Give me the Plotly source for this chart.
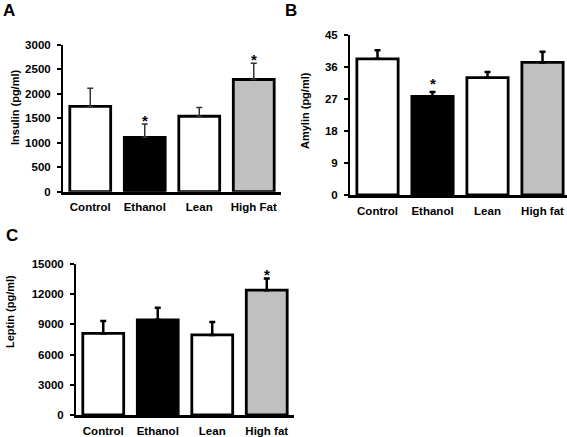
import plotly.graph_objects as go

# ---- data ----
cats_a = ["Control", "Ethanol", "Lean", "High Fat"]
cats_bc = ["Control", "Ethanol", "Lean", "High fat"]

insulin = [1740, 1110, 1540, 2290]
insulin_err = [370, 270, 180, 330]
insulin_sig = [False, True, False, True]

amylin = [38.3, 27.7, 33.0, 37.3]
amylin_err = [2.4, 1.3, 1.6, 3.0]
amylin_sig = [False, True, False, False]

leptin = [8100, 9450, 7950, 12400]
leptin_err = [1250, 1200, 1300, 1150]
leptin_sig = [False, False, False, True]

ticks_a = [0, 500, 1000, 1500, 2000, 2500, 3000]
ticks_b = [0, 9, 18, 27, 36, 45]
ticks_c = [0, 3000, 6000, 9000, 12000, 15000]

fills = ["white", "black", "white", "#c0c0c0"]

FONT = "Liberation Sans"
W, H = 567, 437

fig = go.Figure()

panels = [
    dict(cats=cats_a, vals=insulin, err=insulin_err, sig=insulin_sig, ticks=ticks_a,
         xa="x", ya="y", ecol="#333333", eth=1.5, sshift=4),
    dict(cats=cats_bc, vals=amylin, err=amylin_err, sig=amylin_sig, ticks=ticks_b,
         xa="x2", ya="y2", ecol="black", eth=2.5, sshift=8),
    dict(cats=cats_bc, vals=leptin, err=leptin_err, sig=leptin_sig, ticks=ticks_c,
         xa="x3", ya="y3", ecol="black", eth=2.5, sshift=4),
]

for p in panels:
    fig.add_trace(go.Bar(
        x=p["cats"], y=p["vals"], xaxis=p["xa"], yaxis=p["ya"],
        marker=dict(color=fills, line=dict(color="black", width=2.8)),
        width=0.75,
        error_y=dict(type="data", symmetric=False, array=p["err"],
                     arrayminus=[0] * len(p["err"]),
                     color=p["ecol"], thickness=p["eth"], width=3),
        showlegend=False, hoverinfo="skip",
    ))
    for c, v, e, s in zip(p["cats"], p["vals"], p["err"], p["sig"]):
        if s:
            fig.add_annotation(x=c, y=v + e, xref=p["xa"], yref=p["ya"], text="*",
                               showarrow=False, yanchor="middle", yshift=p["sshift"],
                               font=dict(family=FONT, size=15, color="black", weight="bold"))

tickfont = dict(family=FONT, size=11.5, color="black", weight="bold")

def xaxis_cfg(domain, anchor, rng):
    return dict(domain=domain, anchor=anchor, range=rng, showline=True, linecolor="black",
                linewidth=2.5, ticks="", tickfont=tickfont, ticklabelstandoff=3,
                showgrid=False, zeroline=False, fixedrange=True, automargin=False)

def yaxis_cfg(domain, anchor, rng, tv):
    return dict(domain=domain, anchor=anchor, range=rng, showline=True, linecolor="black",
                linewidth=2, ticks="outside", ticklen=4, tickwidth=2, tickcolor="black",
                tickvals=tv, ticktext=[str(t) for t in tv], tickfont=tickfont,
                ticklabelstandoff=4,
                showgrid=False, zeroline=False, fixedrange=True, automargin=False)

fig.update_layout(
    width=W, height=H, margin=dict(l=0, r=0, t=0, b=0, autoexpand=False),
    paper_bgcolor="white", plot_bgcolor="white", bargap=0.25,
    xaxis=xaxis_cfg([63 / W, 281 / W], "y", [-0.5, 3.5]),
    yaxis=yaxis_cfg([1 - 191.7 / H, 1 - 44.7 / H], "x", [0, 3000], ticks_a),
    xaxis2=xaxis_cfg([350 / W, 1.0], "y2", [-0.5, 3.445]),
    yaxis2=yaxis_cfg([1 - 195 / H, 1 - 35 / H], "x2", [0, 45], ticks_b),
    xaxis3=xaxis_cfg([76 / W, 294 / W], "y3", [-0.5, 3.5]),
    yaxis3=yaxis_cfg([1 - 415 / H, 1 - 264 / H], "x3", [0, 15000], ticks_c),
)

letter_font = dict(family=FONT, size=17, color="black", weight="bold")
for txt, x, y in [("A", 1, 10), ("B", 283, 10), ("C", 4, 235)]:
    fig.add_annotation(x=x / W, y=1 - y / H, xref="paper", yref="paper", text=txt,
                       showarrow=False, xanchor="left", yanchor="middle", font=letter_font)

title_font = dict(family=FONT, size=11, color="black", weight="bold")
for txt, x, y in [("Insulin (pg/ml)", 15, 108), ("Amylin (pg/ml)", 305, 111),
                  ("Leptin (pg/ml)", 10, 312)]:
    fig.add_annotation(x=x / W, y=1 - y / H, xref="paper", yref="paper", text=txt,
                       showarrow=False, textangle=-90, xanchor="center", yanchor="middle",
                       font=title_font)

fig.write_html("out.html", config={"displayModeBar": False},
               post_script="document.body.style.margin='0';document.body.style.overflow='hidden';")
